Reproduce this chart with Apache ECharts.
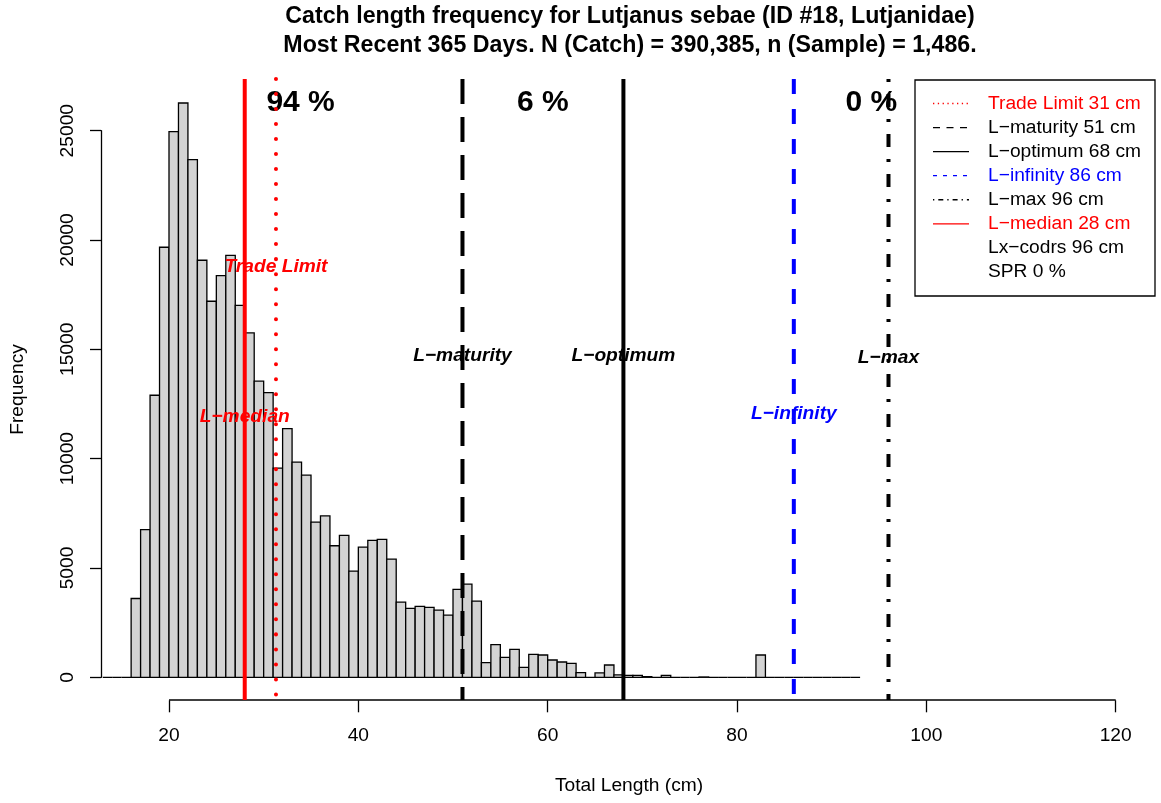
<!DOCTYPE html>
<html>
<head>
<meta charset="utf-8">
<script src="https://cdn.jsdelivr.net/npm/echarts@6/dist/echarts.min.js"></script>
<style>html,body{margin:0;padding:0;background:#fff}#c{width:1161px;height:803px}</style>
</head>
<body>
<div id="c"></div>
<script>
// ---- data ----
const binStarts = [13,14,15,16,17,18,19,20,21,22,23,24,25,26,27,28,29,30,31,32,33,34,35,36,37,38,39,40,41,42,43,44,45,46,47,48,49,50,51,52,53,54,55,56,57,58,59,60,61,62,63,64,65,66,67,68,69,70,71,72,73,74,75,76,77,78,79,80,81,82,83,84,85,86,87,88,89,90,91,92];
const frequency = [0,0,0,3605,6755,12900,19670,24955,26268,23678,19075,17200,18375,19300,17010,15750,13545,13020,9565,11370,9839,9245,7097,7387,6016,6488,4858,5955,6260,6305,5407,3442,3153,3244,3198,3076,2840,4021,4260,3488,670,1493,914,1279,457,1051,1020,792,700,640,213,0,198,563,107,91,91,30,0,91,0,0,0,15,0,0,0,0,0,1020,0,0,0,0,0,0,0,0,0,0];
const xTicks = [20,40,60,80,100,120];
const yTicks = [0,5000,10000,15000,20000,25000];

const refNames   = ['Trade Limit','L\u2212maturity','L\u2212optimum','L\u2212infinity','L\u2212max','L\u2212median'];
const refLengths = [31.3, 51, 68, 86, 96, 28];
const refLabelY  = [18770, 14700, 14700, 12050, 14610, 11920];

const pctLabels = ['94 %','6 %','0 %'];
const pctX      = [33.9, 59.5, 94.2];
const pctY      = [26300, 26300, 26300];

const legendTexts = ['Trade Limit 31 cm','L\u2212maturity 51 cm','L\u2212optimum 68 cm','L\u2212infinity 86 cm','L\u2212max 96 cm','L\u2212median 28 cm','Lx\u2212codrs 96 cm','SPR 0 %'];

const titleLines = ['Catch length frequency for Lutjanus sebae (ID #18, Lutjanidae)','Most Recent 365 Days. N (Catch) = 390,385, n (Sample) = 1,486.'];
const xLabel = 'Total Length (cm)';
const yLabel = 'Frequency';

// ---- styles / layout ----
const FONT = '"Liberation Sans", Arial, Helvetica, sans-serif';
const FS = 19.2;
const TITLE_FS = 23.2;
const PLOT_TOP = 79, PLOT_BOTTOM = 700;
const refStyles = [
  {stroke:'#ff0000', lineWidth:4, lineDash:[0.01,15], lineCap:'round'},
  {stroke:'#000000', lineWidth:4, lineDash:[25,13], lineCap:'butt'},
  {stroke:'#000000', lineWidth:4},
  {stroke:'#0000ff', lineWidth:4, lineDash:[15,15], lineCap:'butt'},
  {stroke:'#000000', lineWidth:4, lineDash:[3,12,13,12], lineCap:'butt'},
  {stroke:'#ff0000', lineWidth:4}
];
const refColors = ['#ff0000','#000000','#000000','#0000ff','#000000','#ff0000'];
const legendColors = ['#ff0000','#000','#000','#0000ff','#000','#ff0000','#000','#000'];
const legendLineStyles = [
  {stroke:'#ff0000', lineWidth:1.3, lineDash:[1.3,3.5]},
  {stroke:'#000', lineWidth:1.3, lineDash:[7,6.5]},
  {stroke:'#000', lineWidth:1.3},
  {stroke:'#0000ff', lineWidth:1.3, lineDash:[4,6]},
  {stroke:'#000', lineWidth:1.3, lineDash:[1.3,4,5,4]},
  {stroke:'#ff0000', lineWidth:1.3},
  null, null
];

const chart = echarts.init(document.getElementById('c'), null, {renderer:'canvas'});

const legendGraphics = [];
const LX = 915, LY = 80, LW = 240, LH = 216;
legendGraphics.push({type:'rect', shape:{x:LX, y:LY, width:LW, height:LH}, style:{fill:'#fff', stroke:'#000', lineWidth:1.3}, z:100});
legendTexts.forEach((t, i) => {
  const y = 103.5 + 24.06 * i;
  if (legendLineStyles[i]) {
    legendGraphics.push({type:'line', shape:{x1:933, y1:y, x2:969, y2:y}, style:legendLineStyles[i], z:101});
  }
  legendGraphics.push({type:'text', x:988, y:y, style:{text:t, fill:legendColors[i], font:FS + 'px ' + FONT, align:'left', verticalAlign:'middle'}, z:101});
});

const option = {
  animation: false,
  backgroundColor: '#fff',
  grid: {left:169, right:45.3, top:130.7, bottom:125.7, containLabel:false},
  xAxis: {
    type:'value', min:xTicks[0], max:xTicks[xTicks.length-1], interval:20,
    offset: 23,
    axisLine:{show:false, onZero:false},
    axisTick:{show:true, length:12, lineStyle:{color:'#000', width:1.3}},
    axisLabel:{show:true, color:'#000', fontSize:FS, fontFamily:FONT, margin:26},
    splitLine:{show:false}
  },
  yAxis: {
    type:'value', min:yTicks[0], max:yTicks[yTicks.length-1], interval:5000,
    offset: 68,
    axisLine:{show:true, lineStyle:{color:'#000', width:1.3}},
    axisTick:{show:true, length:11, lineStyle:{color:'#000', width:1.3}},
    axisLabel:{show:true, color:'#000', fontSize:FS, fontFamily:FONT, rotate:90, margin:24,
               formatter: function(v){ return String(v); }},
    splitLine:{show:false}
  },
  graphic: [
    {type:'text', x:630, y:17, style:{text:titleLines[0], font:'bold ' + TITLE_FS + 'px ' + FONT, fill:'#000', align:'center', verticalAlign:'middle'}},
    {type:'text', x:630, y:46, style:{text:titleLines[1], font:'bold ' + TITLE_FS + 'px ' + FONT, fill:'#000', align:'center', verticalAlign:'middle'}},
    {type:'text', x:629, y:786, style:{text:xLabel, font:FS + 'px ' + FONT, fill:'#000', align:'center', verticalAlign:'middle'}},
    {type:'text', x:18, y:389.5, rotation:Math.PI/2, style:{text:yLabel, font:FS + 'px ' + FONT, fill:'#000', align:'center', verticalAlign:'middle'}}
  ].concat(legendGraphics),
  series: [
    {
      type:'custom', name:'xAxisLine', clip:false, z:1,
      data: [[xTicks[0], 0, xTicks[xTicks.length-1]]],
      encode:{x:[0,2], y:1},
      renderItem: function(params, api) {
        const a = api.coord([api.value(0), 0]);
        const b = api.coord([api.value(2), 0]);
        return {type:'line', shape:{x1:a[0], y1:PLOT_BOTTOM, x2:b[0], y2:PLOT_BOTTOM}, style:{stroke:'#000', lineWidth:1.3}};
      }
    },
    {
      type:'custom', name:'histogram', clip:false, z:2,
      data: binStarts.map((s, i) => [s, s + 1, frequency[i]]),
      encode:{x:[0,1], y:2},
      renderItem: function(params, api) {
        const x0 = api.value(0), x1 = api.value(1), v = api.value(2);
        const p0 = api.coord([x0, v]);
        const p1 = api.coord([x1, 0]);
        return {type:'rect', shape:{x:p0[0], y:p0[1], width:p1[0]-p0[0], height:p1[1]-p0[1]},
                style:{fill: v > 0 ? '#d3d3d3' : 'none', stroke:'#000', lineWidth:1.3}};
      }
    },
    {
      type:'custom', name:'pct', clip:false, z:3,
      data: pctX.map((x, i) => [x, pctY[i], i]),
      encode:{x:0, y:1},
      renderItem: function(params, api) {
        const p = api.coord([api.value(0), api.value(1)]);
        const i = api.value(2);
        return {type:'text', x:p[0], y:p[1], style:{text:pctLabels[i], fill:'#000', font:'bold 30px ' + FONT, align:'center', verticalAlign:'middle'}};
      }
    },
    {
      type:'custom', name:'refLines', clip:false, z:4,
      data: refLengths.map((x, i) => [x, 0, i]),
      encode:{x:0, y:1},
      renderItem: function(params, api) {
        const p = api.coord([api.value(0), 0]);
        const i = api.value(2);
        return {type:'line', shape:{x1:p[0], y1:PLOT_TOP, x2:p[0], y2:PLOT_BOTTOM}, style:Object.assign({fill:null}, refStyles[i])};
      }
    },
    {
      type:'custom', name:'refLabels', clip:false, z:5,
      data: refLengths.map((x, i) => [x, refLabelY[i], i]),
      encode:{x:0, y:1},
      renderItem: function(params, api) {
        const p = api.coord([api.value(0), api.value(1)]);
        const i = api.value(2);
        return {type:'text', x:p[0], y:p[1], style:{text:refNames[i], fill:refColors[i], font:'italic bold ' + FS + 'px ' + FONT, align:'center', verticalAlign:'middle'}};
      }
    }
  ]
};
chart.setOption(option);
</script>
</body>
</html>
